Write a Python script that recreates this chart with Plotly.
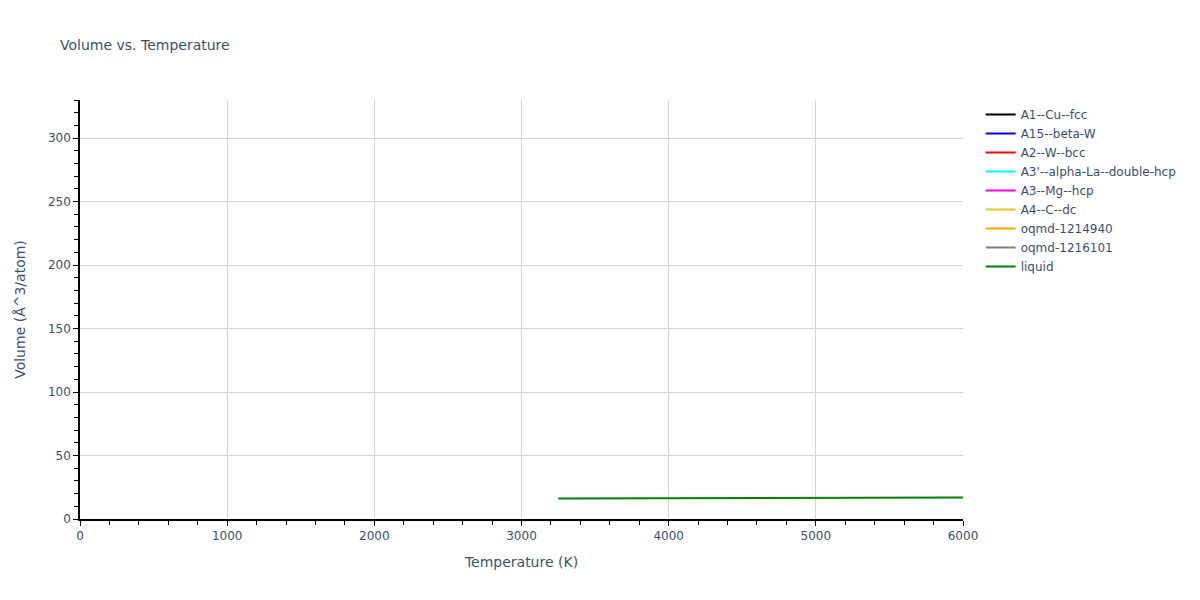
import plotly.graph_objects as go

# phases shown in the legend (only the liquid one has points in range)
phases = ["A1--Cu--fcc", "A15--beta-W", "A2--W--bcc", "A3'--alpha-La--double-hcp",
          "A3--Mg--hcp", "A4--C--dc", "oqmd-1214940", "oqmd-1216101", "liquid"]
colors = ["black", "blue", "red", "cyan", "magenta", "#EBC328", "orange", "gray", "green"]

# liquid volume vs temperature
liquid_T = [3250, 3500, 4000, 4500, 5000, 5500, 6000]
liquid_V = [16.2, 16.25, 16.4, 16.5, 16.6, 16.75, 16.9]

fig = go.Figure()
for name, col in zip(phases, colors):
    if name == "liquid":
        x, y = liquid_T, liquid_V
    else:
        x, y = [None], [None]  # no data, legend entry only
    fig.add_trace(go.Scatter(x=x, y=y, mode="lines", name=name,
                             line=dict(color=col, width=2)))

# page is shifted 8px by the body margin, so margins compensate
fig.update_layout(
    title=dict(text="Volume vs. Temperature", x=52 / 1200, y=1 - 37 / 600,
               yanchor="middle", font=dict(size=14)),
    font=dict(family="Verdana, DejaVu Sans", color="#3a4f6f"),
    width=1200, height=600,
    plot_bgcolor="white", paper_bgcolor="white",
    margin=dict(l=72, r=245, t=92, b=89),
    showlegend=True,
    legend=dict(font=dict(size=12)),
)
fig.update_xaxes(
    title_text="Temperature (K)", range=[0, 6000], dtick=1000,
    showline=True, linecolor="black", linewidth=1.5,
    showgrid=True, gridcolor="lightgray",
    ticks="outside", tickcolor="black", ticklen=5,
    minor=dict(ticks="outside", dtick=200, ticklen=4, tickcolor="black", showgrid=False),
    zeroline=False,
)
fig.update_yaxes(
    title=dict(text="Volume (Å^3/atom)", standoff=19), automargin=False,
    range=[0, 330], dtick=50,
    showline=True, linecolor="black", linewidth=1.5,
    showgrid=True, gridcolor="lightgray",
    ticks="outside", tickcolor="black", ticklen=5,
    minor=dict(ticks="outside", dtick=10, ticklen=4, tickcolor="black", showgrid=False),
    zeroline=False,
)

fig.write_html("out.html")
